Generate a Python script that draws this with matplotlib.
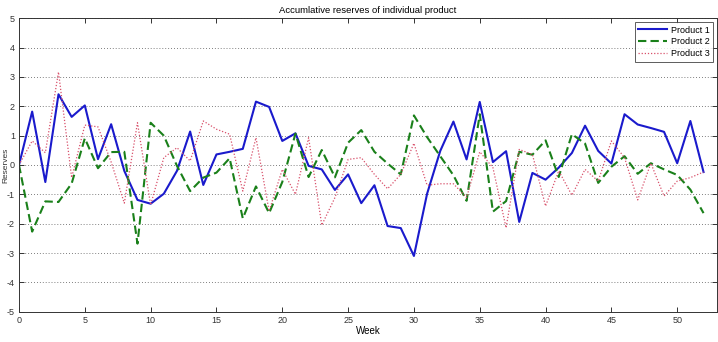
import numpy as np
import matplotlib
matplotlib.use("Agg")
import matplotlib.pyplot as plt

plt.rcParams['font.family'] = ['Liberation Sans', 'DejaVu Sans']
plt.rcParams['axes.unicode_minus'] = False

# Weeks 0..52
weeks = list(range(53))

product1 = [0.0, 1.82, -0.58, 2.41, 1.64, 2.03, 0.2, 1.39, -0.2, -1.19,
            -1.32, -0.98, -0.2, 1.14, -0.68, 0.36, 0.45, 0.55, 2.16, 1.98,
            0.82, 1.08, -0.03, -0.15, -0.85, -0.32, -1.3, -0.69, -2.08, -2.15,
            -3.1, -0.98, 0.48, 1.48, 0.19, 2.15, 0.1, 0.47, -1.94, -0.27,
            -0.5, -0.09, 0.41, 1.34, 0.48, 0.05, 1.73, 1.38, 1.26, 1.13,
            0.06, 1.5, -0.24]

product2 = [0.0, -2.27, -1.24, -1.26, -0.63, 0.91, -0.11, 0.44, 0.45, -2.68,
            1.44, 1.0, -0.03, -0.89, -0.43, -0.26, 0.23, -1.82, -0.73, -1.64,
            -0.58, 1.07, -0.41, 0.51, -0.42, 0.76, 1.19, 0.45, 0.05, -0.32,
            1.69, 0.95, 0.3, -0.35, -1.22, 1.73, -1.59, -1.23, 0.45, 0.35,
            0.84, -0.41, 1.05, 0.73, -0.61, -0.06, 0.3, -0.3, 0.06, -0.15,
            -0.34, -0.84, -1.64]

product3 = [0.0, 0.82, 0.42, 3.17, -0.43, 1.36, 1.3, 0.1, -1.3, 1.44,
            -1.36, 0.25, 0.59, 0.14, 1.5, 1.22, 1.05, -0.89, 0.93, -1.57,
            -0.15, -1.0, 0.93, -2.05, -1.11, 0.19, 0.25, -0.32, -0.81, -0.32,
            0.74, -0.69, -0.64, -0.64, -1.11, 0.45, -0.09, -2.14, 0.53, 0.36,
            -1.4, -0.2, -1.03, -0.15, -0.55, 0.82, 0.25, -1.19, 0.06, -1.06,
            -0.55, -0.43, -0.24]

fig = plt.figure(figsize=(7.18, 3.42), dpi=100)
ax = fig.add_axes([19 / 718, 1 - 311.7 / 342, (716.7 - 19) / 718, (311.7 - 18.3) / 342])

ax.plot(weeks, product1, color='#1a1acc', lw=1.5, label='Product 1')
ax.plot(weeks, product2, color='#1a801a', lw=1.5, linestyle=(0, (4, 2)), label='Product 2')
ax.plot(weeks, product3, color='#d8506a', lw=0.9, linestyle=(0, (1, 1.5)), label='Product 3')

ax.set_xlim(0, 53)
ax.set_ylim(-5, 5)
ax.set_xticks(np.arange(0, 51, 5))
ax.set_yticks(np.arange(-5, 6, 1))
ax.yaxis.grid(True, linestyle=(0, (1, 2.5)), color='#555555', lw=0.6)
ax.tick_params(direction='in', top=True, right=True, length=3.5, width=0.7,
               labelsize=6.5, pad=3, colors='#333333')
for s in ax.spines.values():
    s.set_color('#333333')
    s.set_linewidth(0.7)

ax.set_title('Accumlative reserves of individual product', fontsize=6.8, pad=4)
ax.set_xlabel('Week', fontsize=7, labelpad=1)
ax.set_ylabel('Reserves', fontsize=6, color='#333333')
ax.yaxis.set_label_coords(-0.0135, 0.5)

leg = ax.legend(loc='upper right', fontsize=6.5, frameon=True, fancybox=False,
                edgecolor='#333333', borderpad=0.4, handlelength=3.2,
                labelspacing=0.3, handletextpad=0.4, borderaxespad=0.4)
leg.get_frame().set_linewidth(0.7)

fig.savefig('out.png', dpi=100)
